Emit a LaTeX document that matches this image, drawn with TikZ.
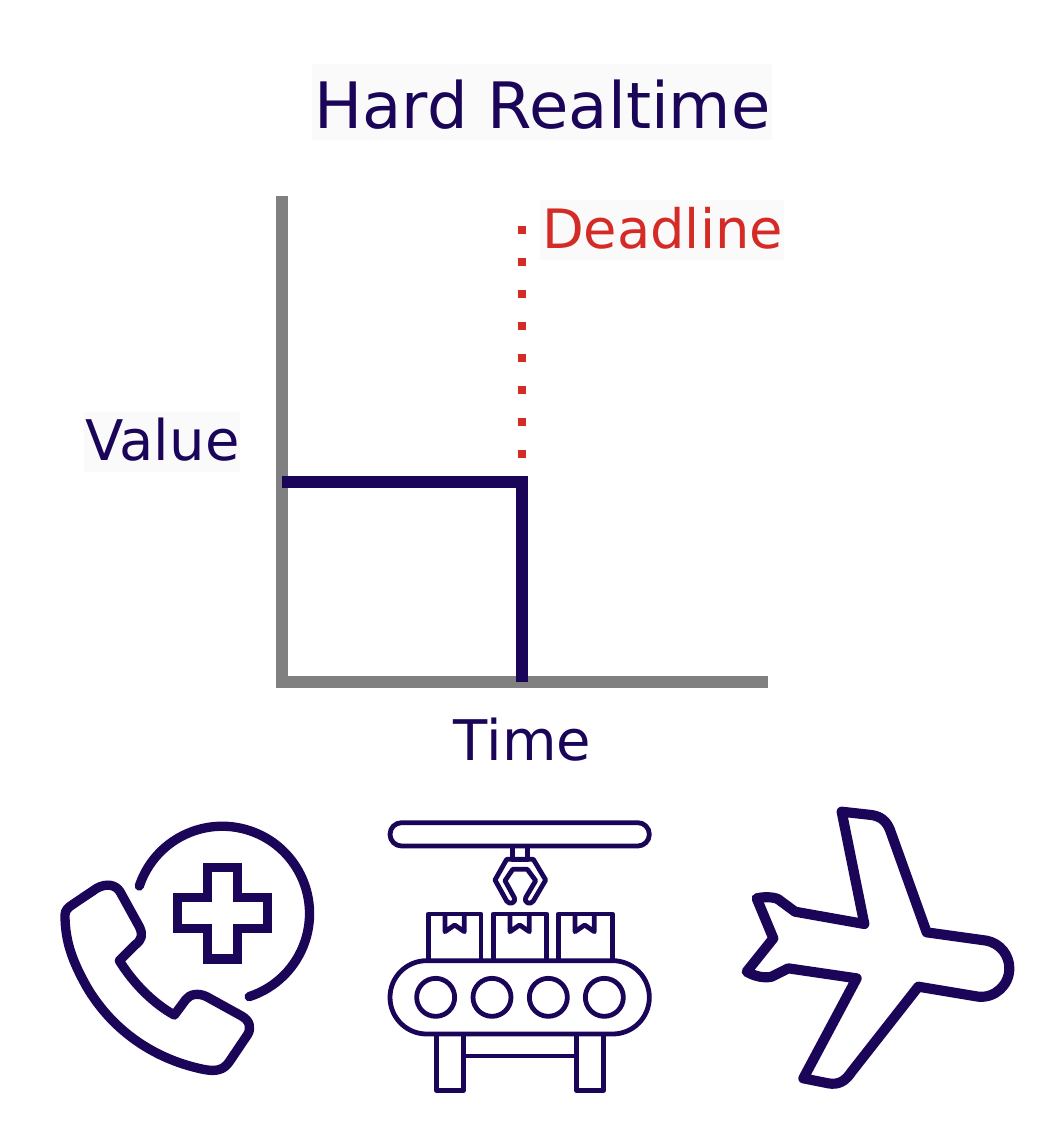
\documentclass[tikz,border=0pt]{standalone}
\usepackage{fontspec}
\setmainfont{DejaVu Sans}
\definecolor{navy}{HTML}{1A0558}
\definecolor{dred}{HTML}{D52B26}
\definecolor{axisgray}{HTML}{808080}
\definecolor{labelbg}{HTML}{FAFAFA}
\tikzset{
  lab/.style={inner sep=0pt,text=navy,anchor=base,font=\fontsize{#1}{#1}\selectfont},
  bgbox/.style={fill=labelbg,draw=none},
  axisline/.style={draw=axisgray,line width=9pt},
  curveline/.style={draw=navy,line width=9pt},
  thickicon/.style={draw=navy,line width=7pt,line join=round,line cap=round},
  planeicon/.style={draw=navy,line width=7.6pt,line join=round,line cap=round},
  thinicon/.style={draw=navy,line width=3.6pt,line join=round},
  zoomed/.style={x=0.25pt,y=-0.25pt}
}
\begin{document}
\begin{tikzpicture}[x=0.75pt,y=-0.75pt]
\useasboundingbox (0,0) rectangle (1056,1136);
\fill[white] (0,0) rectangle (1056,1136);
% label backgrounds
\fill[bgbox] (312,64) rectangle (772,140);
\fill[bgbox] (540,200) rectangle (784,260);
\fill[bgbox] (84,412) rectangle (240,472);
% labels
\node[lab=48] (title) at (542.5,128) {Hard Realtime};
\node[lab=40.7,text=dred] (deadline) at (662.5,248) {Deadline};
\node[lab=42] (value) at (162.5,460) {Value};
\node[lab=42] (time) at (522.5,760) {Time};
% axes
\draw[axisline] (282,196) -- (282,682) -- (768,682);
% dotted deadline
\foreach \yy in {230,262,294,326,358,390,422,454}
  \fill[dred] (518,\yy-4) rectangle (526,\yy+4);
% value curve
\draw[curveline,line join=miter] (282,482) -- (522,482) -- (522,682);
% phone icon
\begin{scope}[shift={(40,800)},zoomed]
  \draw[thickicon] (298,258) arc[start angle=198.4,end angle=432,radius=262];
  \draw[thickicon,line join=miter] (503,203) -- (592,203) -- (592,293) -- (682,293) -- (682,385) -- (592,385) -- (592,477) -- (503,477) -- (503,385) -- (413,385) -- (413,293) -- (503,293) -- cycle;
  \draw[thickicon] (75,345) .. controls (75,330) and (85,322) .. (100,312)
    -- (170,265) .. controls (200,248) and (228,255) .. (240,275)
    -- (298,380) .. controls (310,405) and (305,420) .. (285,435)
    -- (238,482) .. controls (280,550) and (340,610) .. (403,645)
    -- (438,598) .. controls (450,582) and (475,578) .. (500,590)
    -- (605,648) .. controls (630,662) and (635,685) .. (622,705)
    -- (568,785) .. controls (550,812) and (525,815) .. (490,808)
    .. controls (330,775) and (210,680) .. (140,560)
    .. controls (95,480) and (75,420) .. (75,345) -- cycle;
\end{scope}
% conveyor icon
\begin{scope}[shift={(370,800)},zoomed]
  \draw[thinicon,rounded corners=8.7pt] (60,68) rectangle (838,138);
  \draw[thinicon] (427,138) rectangle (473,178);
  \draw[thinicon] (410,178) -- (375,240) -- (410,303) .. controls (418,316) and (440,308) .. (433,293) -- (405,242) -- (428,208) -- (472,208) -- (497,242) -- (467,293) .. controls (460,308) and (482,316) .. (490,303) -- (527,240) -- (490,178) -- cycle;
  \foreach \bx/\bw in {175/158,370/160,565/162}{
    \draw[thinicon] (\bx,482) -- (\bx,342) -- (\bx+\bw,342) -- (\bx+\bw,482);
    \draw[thinicon] (\bx+50,342) -- (\bx+50,395) -- (\bx+79,375) -- (\bx+108,395) -- (\bx+108,342);
  }
  \draw[thinicon,rounded corners=27.5pt] (60,482) rectangle (838,702);
  \foreach \cx in {197,366,535,703}
    \draw[thinicon] (\cx,592) circle[radius=57];
  \draw[thinicon] (200,702) rectangle (280,872);
  \draw[thinicon] (620,702) rectangle (700,872);
  \draw[thinicon] (280,768) -- (620,768);
\end{scope}
% plane icon
\begin{scope}[shift={(730,800)},zoomed]
  \draw[planeicon] (335,35) -- (425,45) .. controls (455,50) and (470,65) .. (480,90)
    -- (590,397) -- (770,422) .. controls (810,430) and (838,465) .. (838,505)
    .. controls (838,555) and (795,595) .. (745,590)
    -- (565,560) -- (365,815) .. controls (345,845) and (325,855) .. (295,850)
    -- (220,835) -- (380,535) -- (175,505) -- (125,530) .. controls (105,535) and (75,530) .. (50,515)
    -- (130,415) -- (80,295) .. controls (100,290) and (130,290) .. (145,298)
    -- (195,335) -- (403,372) -- cycle;
\end{scope}
\end{tikzpicture}
\end{document}
